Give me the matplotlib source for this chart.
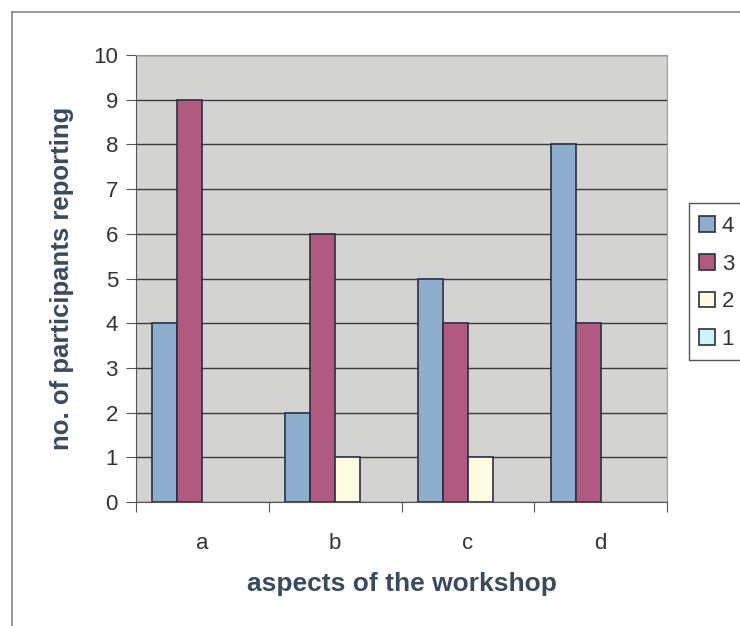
import matplotlib.pyplot as plt
import numpy as np
from matplotlib.lines import Line2D
from matplotlib.patches import Patch, Rectangle

categories = ['a', 'b', 'c', 'd']
series_names = ['4', '3', '2', '1']
vals_4 = [4, 2, 5, 8]
vals_3 = [9, 6, 4, 4]
vals_2 = [0, 1, 1, 0]
vals_1 = [0, 0, 0, 0]
colors = ['#8fadcc', '#b05a80', '#fdfbe0', '#cdf5f5']
edge = '#2b2f45'

plt.rcParams['font.family'] = ['Liberation Sans', 'DejaVu Sans']

fig = plt.figure(figsize=(7.4, 6.26), dpi=100)
fig.patch.set_facecolor('white')
ax = fig.add_axes([0.1838, 0.198, 0.7176, 0.714])
ax.set_facecolor('#d3d3d1')

x = np.arange(len(categories))
w = 0.188
series = [vals_4, vals_3, vals_2, vals_1]
for i, vals in enumerate(series):
    bars = ax.bar(x + (i - 1.5) * w, vals, w, color=colors[i], edgecolor=edge,
                  linewidth=1.2, zorder=3)
    # zero values leave no visible mark
    for b, v in zip(bars, vals):
        if v == 0:
            b.set_visible(False)

ax.set_xlim(-0.5, 3.5)
ax.set_ylim(0, 10)
ax.set_yticks(range(0, 11))
ax.grid(axis='y', color='#3a3a3a', linewidth=1, zorder=1)
ax.set_xticks([-0.5, 0.5, 1.5, 2.5, 3.5])
ax.set_xticklabels([])
ax.set_xticks(x, minor=True)
ax.set_xticklabels(categories, minor=True)
ax.tick_params(axis='x', which='minor', length=0, pad=22, labelsize=16, labelcolor='#333333')
ax.tick_params(axis='x', which='major', length=7, color='#555555', direction='out')
ax.tick_params(axis='y', length=7, color='#555555', labelsize=16, labelcolor='#333333', pad=6)

for s in ['top', 'right']:
    ax.spines[s].set_color('#9a9a9a')
for s in ['left', 'bottom']:
    ax.spines[s].set_color('#555555')

ax.set_ylabel('no. of participants reporting', fontsize=18.5, fontweight='bold',
              color='#3a4a5e', labelpad=14)
ax.set_xlabel('aspects of the workshop', fontsize=19, fontweight='bold',
              color='#3a4a5e', labelpad=13)

handles = [Patch(facecolor=c, edgecolor=edge, linewidth=1.2, label=n)
           for c, n in zip(colors, series_names)]
leg = ax.legend(handles=handles, loc='upper left', bbox_to_anchor=(1.04, 0.665),
                borderaxespad=0, frameon=False, fontsize=16, handlelength=0.7,
                handleheight=0.7, handletextpad=0.3, labelspacing=0.75,
                borderpad=0.5)
for t in leg.get_texts():
    t.set_color('#333333')

# legend box runs off the right edge, as in the scan
fig.add_artist(Rectangle((0.931, 0.425), 0.2, 0.251, transform=fig.transFigure,
                         fill=False, edgecolor='#555555', linewidth=1))

# outer chart border
fig.add_artist(Line2D([0.016, 0.016], [0.0, 0.981], color='#888888', linewidth=1.2))
fig.add_artist(Line2D([0.016, 1.0], [0.981, 0.981], color='#888888', linewidth=1.2))

fig.savefig('out.png', dpi=100)
